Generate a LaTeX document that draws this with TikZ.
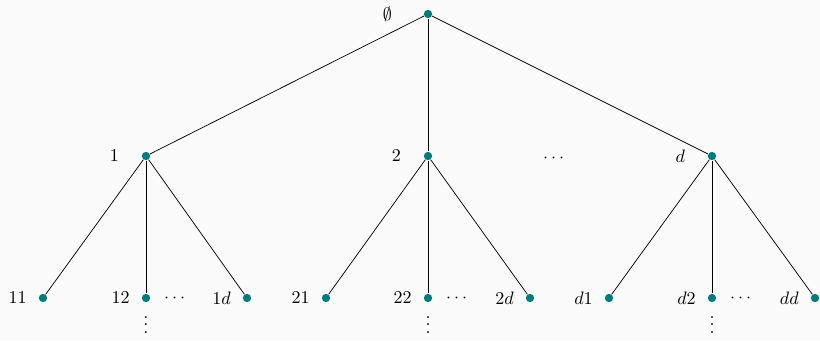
\documentclass[tikz,border=0pt]{standalone}
\usepackage{amsmath}
\usetikzlibrary{positioning}

\definecolor{dotteal}{HTML}{007B7B}
\definecolor{bgpaper}{HTML}{FAFAFA}

\tikzset{
  vtx/.style={circle, fill=dotteal, inner sep=0pt, minimum size=4.6pt},
}

\begin{document}
\begin{tikzpicture}[scale=0.78]
% Background and frame
\fill[bgpaper] (0,0) rectangle (20.5,8.5);
\useasboundingbox (0,0) rectangle (20.5,8.5);

% Root
\node[vtx, label={[label distance=14pt]left:$\emptyset$}] (root) at (10.7,8.15) {};

% First level
\node[vtx, label={[label distance=9pt]left:$1$}] (n1) at (3.65,4.6) {};
\node[vtx, label={[label distance=9pt]left:$2$}] (n2) at (10.7,4.6) {};
\node[vtx, label={[label distance=9pt]left:$d$}] (nd) at (17.8,4.6) {};
\node (hdots) at (13.88,4.54) {$\cdots$};

% Second level
\node[vtx, label={[label distance=3pt]left:$11$}] (n11) at (1.075,1.05) {};
\node[vtx, label={[label distance=3pt]left:$12$}] (n12) at (3.65,1.05) {};
\node[vtx, label={[label distance=3pt]left:$1d$}] (n1d) at (6.175,1.05) {};
\node[vtx, label={[label distance=3pt]left:$21$}] (n21) at (8.15,1.05) {};
\node[vtx, label={[label distance=3pt]left:$22$}] (n22) at (10.7,1.05) {};
\node[vtx, label={[label distance=3pt]left:$2d$}] (n2d) at (13.25,1.05) {};
\node[vtx, label={[label distance=3pt]left:$d1$}] (nd1) at (15.225,1.05) {};
\node[vtx, label={[label distance=3pt]left:$d2$}] (nd2) at (17.8,1.05) {};
\node[vtx, label={[label distance=3pt]left:$dd$}] (ndd) at (20.375,1.05) {};

% Dots between and below
\node[right=4pt of n12] (h12) {$\cdots$};
\node[right=4pt of n22] (h22) {$\cdots$};
\node[right=4pt of nd2] (hd2) {$\cdots$};
\node[below=1.2pt of n12, inner sep=0.5pt] (v12) {$\vdots$};
\node[below=1.2pt of n22, inner sep=0.5pt] (v22) {$\vdots$};
\node[below=1.2pt of nd2, inner sep=0.5pt] (vd2) {$\vdots$};

% Edges
\draw (root) -- (n1);
\draw (root) -- (n2);
\draw (root) -- (nd);
\draw (n1) -- (n11); \draw (n1) -- (n12); \draw (n1) -- (n1d);
\draw (n2) -- (n21); \draw (n2) -- (n22); \draw (n2) -- (n2d);
\draw (nd) -- (nd1); \draw (nd) -- (nd2); \draw (nd) -- (ndd);
\end{tikzpicture}
\end{document}
